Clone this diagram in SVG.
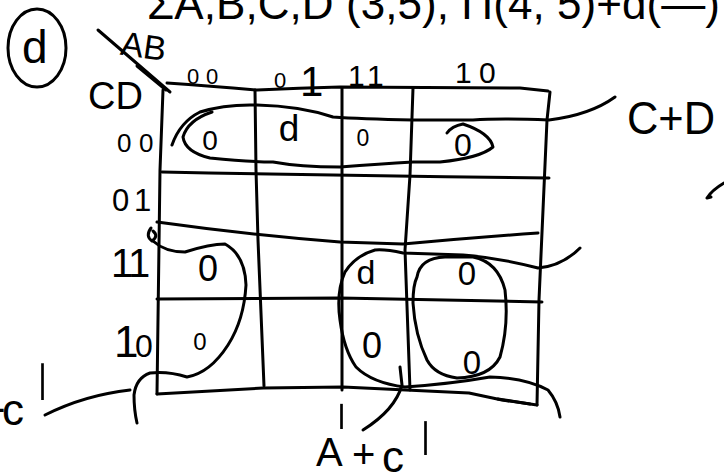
<svg xmlns="http://www.w3.org/2000/svg" width="724" height="474" viewBox="0 0 724 474">
<style>
.s{fill:none;stroke:#000;stroke-width:3;stroke-linecap:round;stroke-linejoin:round}
.t{font-family:"Liberation Sans","DejaVu Sans",sans-serif;fill:#000}
.p{font-family:"DejaVu Sans",sans-serif}
</style>
<rect width="724" height="474" fill="#fff"/>
<g id="title">
<text class="t" x="147" y="19" font-size="44" textLength="573" lengthAdjust="spacing">ΣA,B,C,D (3,5), Π(4, 5)+d(—)</text>
</g>
<g id="part-label">
<ellipse class="s" cx="37" cy="48" rx="29" ry="39"/>
<text class="t" x="22" y="63" font-size="46">d</text>
</g>
<g id="grid">
<path class="s" d="M167,83 Q210,86 257,90 Q300,88 340,87 L520,88 L548,91"/>
<path class="s" d="M98,30 L170,92"/>
<path class="s" d="M137,66 L166,90"/>
<path class="s" d="M163,90 L160,170 L157,394"/>
<path class="s" d="M255,90 L256,170 L258,240 L264,386"/>
<path class="s" d="M342,88 L342,390"/>
<path class="s" d="M413,88 L410,175 L405,250 L410,390"/>
<path class="s" d="M550,92 L547,120 L539,300 L537,405"/>
<path class="s" d="M162,172 Q350,176 549,178"/>
<path class="s" d="M157,222 Q250,235 340,242 L403,244 Q470,238 538,233"/>
<path class="s" d="M157,299 L340,298 L542,302"/>
<path class="s" d="M157,394 L263,388 L343,387 L469,393 L502,400 L537,405"/>
<path class="s" d="M498,399 L530,404" stroke-width="5"/>
</g>
<g id="headers">
<text class="t" x="121" y="58" font-size="34" transform="rotate(8 145 45)">AB</text>
<text class="t" x="88" y="109" font-size="38">CD</text>
<text class="t" y="84" font-size="22"><tspan x="187">0</tspan><tspan x="206">0</tspan></text>
<text class="t" y="88" font-size="22"><tspan x="274">0</tspan><tspan x="300" font-size="42" y="96">1</tspan></text>
<text class="t" y="86" font-size="30"><tspan x="348">1</tspan><tspan x="367">1</tspan></text>
<text class="t" y="83" font-size="30"><tspan x="455">1</tspan><tspan x="479">0</tspan></text>
<text class="t" y="152" font-size="26"><tspan x="117">0</tspan><tspan x="139">0</tspan></text>
<text class="t" y="211" font-size="31"><tspan x="112">0</tspan><tspan x="134">1</tspan></text>
<text class="t" y="277" font-size="40"><tspan x="111">1</tspan><tspan x="128">1</tspan></text>
<text class="t" y="357" font-size="44"><tspan x="114">1</tspan><tspan x="135" font-size="32">0</tspan></text>
</g>
<g id="cells" class="t" text-anchor="middle">
<text x="210" y="150" font-size="28">0</text>
<text x="289" y="141" font-size="37">d</text>
<text x="363" y="146" font-size="23">0</text>
<text x="463" y="156" font-size="32">0</text>
<text x="208" y="281" font-size="36">0</text>
<text x="366" y="284" font-size="34">d</text>
<text x="467" y="285" font-size="33">0</text>
<text x="200" y="350" font-size="24">0</text>
<text x="372" y="358" font-size="36">0</text>
<text x="472" y="374" font-size="33">0</text>
</g>
<g id="connectors">
<path class="s" d="M172,145 Q180,122 200,112 Q225,104 257,105 Q300,106 333,117 Q360,119 413,120 L473,120 Q500,118 549,120 Q590,115 615,97"/>
<path class="s" d="M212,112 Q188,120 183,137 Q185,152 210,158 Q250,162 273,162 Q300,167 340,167 Q380,164 413,162 L440,162 Q480,158 493,147 Q490,133 463,124 Q452,126 447,133"/>
<path class="s" d="M151,228 Q145,236 152,241 Q159,236 153,231"/>
<path class="s" d="M153,241 Q165,252 185,252 Q210,244 225,244 Q245,255 246,285 Q244,320 228,345 Q210,373 187,377 Q168,371 150,373 Q136,378 134,395 Q134,410 137,423"/>
<path class="s" d="M45,415 Q85,395 130,390"/>
<path class="s" d="M580,248 Q562,266 538,268 Q500,258 463,255 L403,253 Q385,249 375,250 Q355,256 345,272 Q336,292 340,320 Q344,350 356,367 Q372,383 405,387 Q450,384 490,377 Q525,378 548,390 Q558,402 560,417"/>
<path class="s" d="M417,277 Q420,258 445,257 L473,257 Q498,262 505,290 Q509,325 500,357 Q490,377 457,378 Q435,375 427,360 Q415,335 413,303 Q413,285 417,277 Z"/>
<path class="s" d="M400,367 L402,385 Q395,410 363,430"/>
<path class="s" d="M724,183 Q712,190 707,198 L711,197"/>
</g>
<g id="labels">
<text class="t" x="627" y="134" font-size="46" textLength="88" lengthAdjust="spacingAndGlyphs">C+D</text>
<text class="t" y="425" font-size="44"><tspan x="-20">+</tspan><tspan x="2">c</tspan><tspan class="p" x="38" y="462" font-size="136" textLength="9" lengthAdjust="spacingAndGlyphs">'</tspan></text>
<text class="t" y="466" font-size="40"><tspan x="316">A</tspan><tspan class="p" x="337" y="472" font-size="92" textLength="9" lengthAdjust="spacingAndGlyphs">'</tspan><tspan x="352" y="468">+</tspan><tspan x="382" y="472" font-size="44">c</tspan><tspan class="p" x="421" y="512" font-size="124" textLength="9" lengthAdjust="spacingAndGlyphs">'</tspan></text>
</g>
</svg>
